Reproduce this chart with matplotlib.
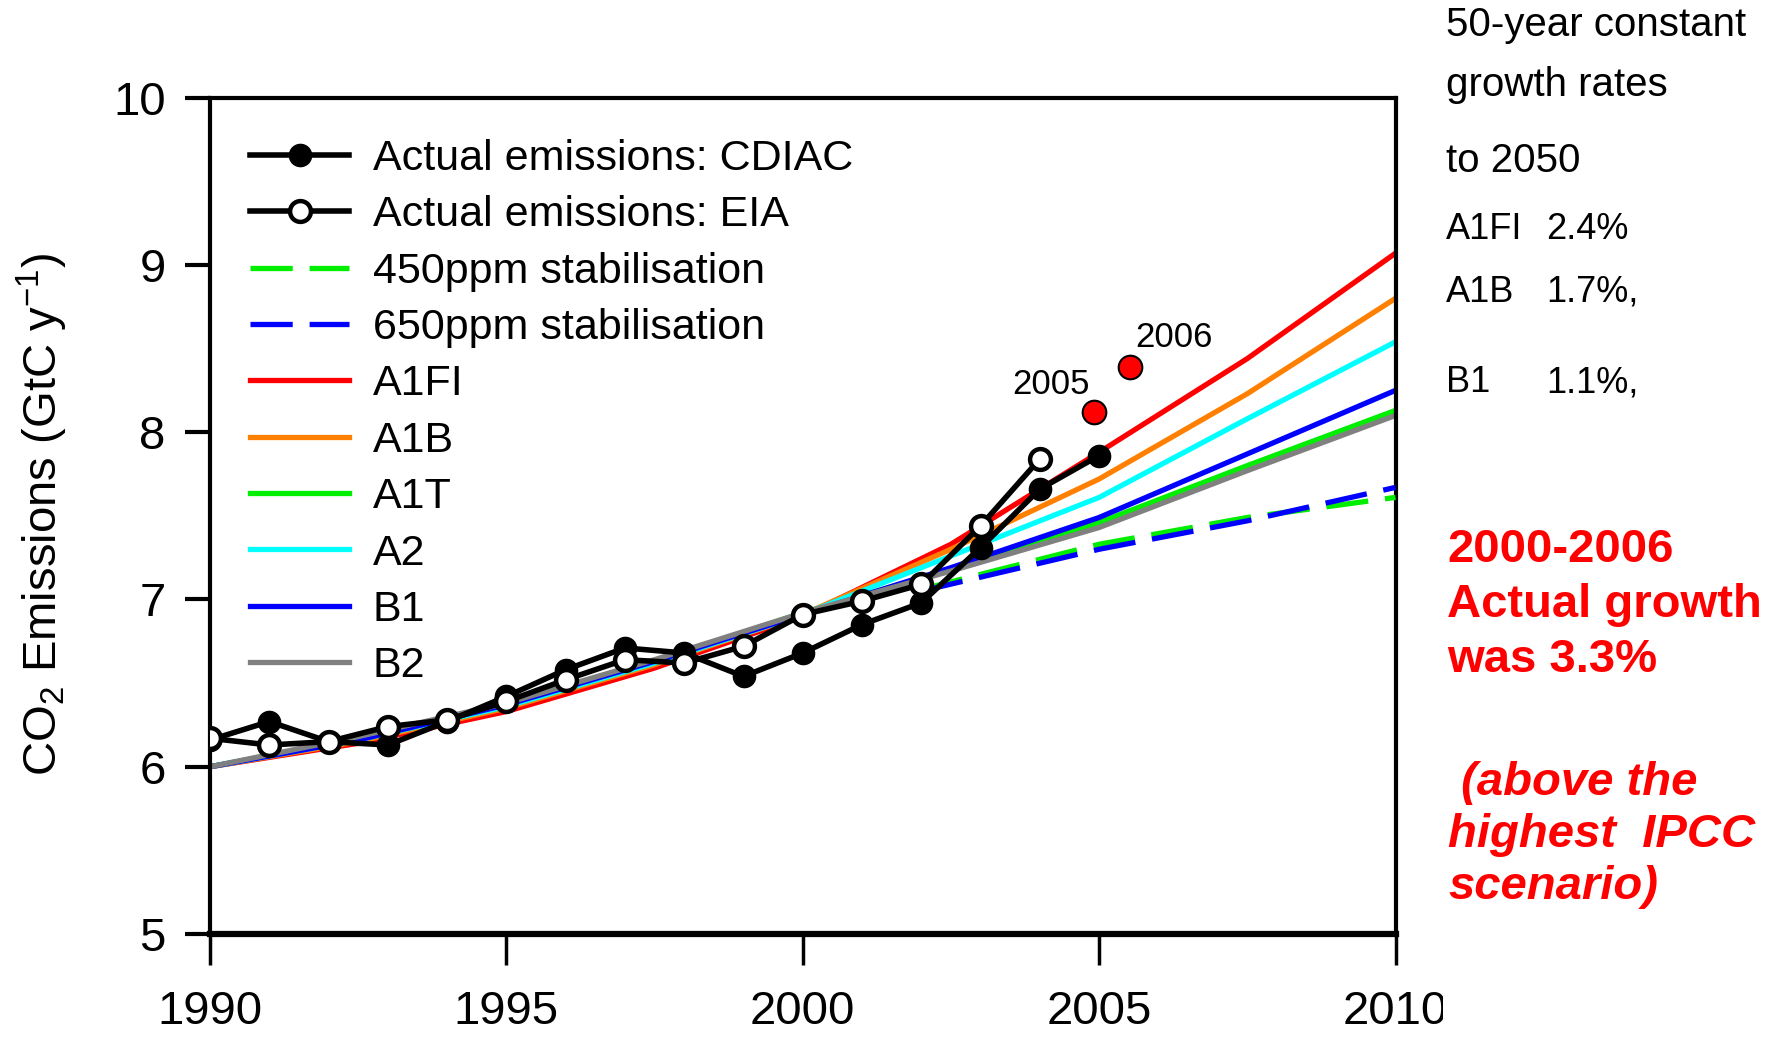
import matplotlib.pyplot as plt
from matplotlib.transforms import Bbox, TransformedBbox

plt.rcParams['font.family'] = ['Liberation Sans', 'DejaVu Sans']
plt.rcParams['mathtext.default'] = 'regular'

NARROW = ['Liberation Sans Narrow', 'Liberation Sans', 'DejaVu Sans']

# Actual emissions (GtC per year)
years_cdiac = [1990, 1991, 1992, 1993, 1994, 1995, 1996, 1997, 1998, 1999,
               2000, 2001, 2002, 2003, 2004, 2005]
cdiac = [6.16, 6.27, 6.15, 6.13, 6.27, 6.42, 6.58, 6.71, 6.68, 6.54,
         6.68, 6.85, 6.98, 7.31, 7.66, 7.86]
years_eia = [1990, 1991, 1992, 1993, 1994, 1995, 1996, 1997, 1998, 1999,
             2000, 2001, 2002, 2003, 2004]
eia = [6.17, 6.13, 6.15, 6.24, 6.28, 6.39, 6.52, 6.64, 6.62, 6.72,
       6.91, 6.99, 7.09, 7.44, 7.84]

# latest estimates highlighted in red
recent_x = [2004.92, 2005.52]
recent_y = [8.12, 8.39]
recent_labels = ['2005', '2006']

# IPCC SRES scenarios
years_sres = [1990, 1992.5, 1995, 1997.5, 2000, 2002.5, 2005, 2007.5, 2010]
a1fi = [6.00, 6.14, 6.33, 6.59, 6.90, 7.33, 7.88, 8.44, 9.07]
a1b = [6.00, 6.15, 6.35, 6.61, 6.91, 7.30, 7.72, 8.23, 8.80]
a1t = [6.00, 6.17, 6.37, 6.63, 6.92, 7.18, 7.46, 7.80, 8.13]
a2 = [6.00, 6.16, 6.36, 6.62, 6.91, 7.26, 7.61, 8.08, 8.54]
b1 = [6.00, 6.16, 6.37, 6.63, 6.91, 7.19, 7.49, 7.87, 8.25]
b2 = [6.00, 6.18, 6.38, 6.64, 6.92, 7.17, 7.43, 7.77, 8.10]

# stabilisation pathways
years_stab = [2002, 2005, 2007.5, 2010]
ppm450 = [7.06, 7.33, 7.49, 7.61]
ppm650 = [7.05, 7.30, 7.47, 7.67]

fig = plt.figure(figsize=(17.8, 10.37), dpi=100)
ax = fig.add_axes([0.118, 0.0993, 0.666, 0.8066])

# legend order: actual data, stabilisation, scenarios
ax.plot(years_cdiac, cdiac, color='black', lw=4, marker='o', ms=16,
        mfc='black', mec='black', label='Actual emissions: CDIAC', zorder=5)
ax.plot(years_eia, eia, color='black', lw=4, marker='o', ms=15,
        mfc='white', mec='black', mew=3.2, label='Actual emissions: EIA', zorder=6)
ax.plot(years_stab, ppm450, color='#00ee00', lw=3.8, dashes=(8, 3.2),
        label='450ppm stabilisation', zorder=3)
ax.plot(years_stab, ppm650, color='#0000ff', lw=3.8, dashes=(8, 3.2),
        label='650ppm stabilisation', zorder=3)

scenarios = [('A1FI', a1fi, '#ff0000'), ('A1B', a1b, '#ff8000'),
             ('A1T', a1t, '#00ee00'), ('A2', a2, '#00ffff'),
             ('B1', b1, '#0000ff'), ('B2', b2, '#808080')]
for name, vals, col in scenarios:
    ax.plot(years_sres, vals, color=col, lw=3.8, label=name, zorder=2)

ax.plot(recent_x, recent_y, 'o', color='#ff0000', ms=17, mec='black',
        mew=1.5, zorder=7)
ax.annotate(recent_labels[0], (recent_x[0], recent_y[0]), xytext=(-31, 20),
            textcoords='offset points', ha='center', va='center',
            fontsize=25, family=NARROW)
ax.annotate(recent_labels[1], (recent_x[1], recent_y[1]), xytext=(32, 21),
            textcoords='offset points', ha='center', va='center',
            fontsize=25, family=NARROW)

ax.set_xlim(1990, 2010)
ax.set_ylim(5, 10)
ax.set_xticks([1990, 1995, 2000, 2005, 2010])
ax.set_yticks([5, 6, 7, 8, 9, 10])
ax.tick_params(axis='y', direction='out', length=18, width=3, pad=14, labelsize=34)
ax.tick_params(axis='x', direction='out', length=22, width=2.5, pad=18, labelsize=34)
for side in ['left', 'top', 'right']:
    ax.spines[side].set_linewidth(3)
ax.spines['bottom'].set_linewidth(4.5)

# the last year label is cut off at the right edge in the original
clip = TransformedBbox(Bbox([[0, 0], [1443 / 1780, 1]]), fig.transFigure)
last = ax.xaxis.get_major_ticks()[-1].label1
last.set_clip_box(clip)
last.set_clip_on(True)

fig.text(42 / 1780, 1 - 514 / 1037, 'CO$_2$ Emissions (GtC y$^{-1}$)',
         rotation=90, ha='center', va='center', fontsize=34)

ax.legend(loc='upper left', bbox_to_anchor=(250 / 1780, 1 - 139 / 1037),
          bbox_transform=fig.transFigure, frameon=False, fontsize=31,
          handlelength=2.3, handletextpad=0.55, labelspacing=0.38,
          borderpad=0, borderaxespad=0, numpoints=1)

# growth-rate notes on the right
notes = [('50-year constant', 25), ('growth rates', 85), ('to 2050', 161)]
for txt, y in notes:
    fig.text(1446 / 1780, 1 - y / 1037, txt, ha='left', va='center',
             fontsize=29, family=NARROW)
rates = [('A1FI', '2.4%', 230), ('A1B', '1.7%,', 292), ('B1', '1.1%,', 383)]
for name, rate, y in rates:
    fig.text(1446 / 1780, 1 - y / 1037, name, ha='left', va='center',
             fontsize=26, family=NARROW)
    fig.text(1546 / 1780, 1 - y / 1037, rate, ha='left', va='center',
             fontsize=26, family=NARROW)

bold_lines = [('2000-2006', 550), ('Actual growth', 605), ('was 3.3%', 660)]
for txt, y in bold_lines:
    fig.text(1447 / 1780, 1 - y / 1037, txt, ha='left', va='center',
             fontsize=34, fontweight='bold', color='#ff0000')
italic_lines = [(' (above the', 783), ('highest  IPCC', 835), ('scenario)', 887)]
for txt, y in italic_lines:
    fig.text(1448 / 1780, 1 - y / 1037, txt, ha='left', va='center',
             fontsize=34, fontweight='bold', fontstyle='italic', color='#ff0000')

plt.savefig('out.png', dpi=100)
